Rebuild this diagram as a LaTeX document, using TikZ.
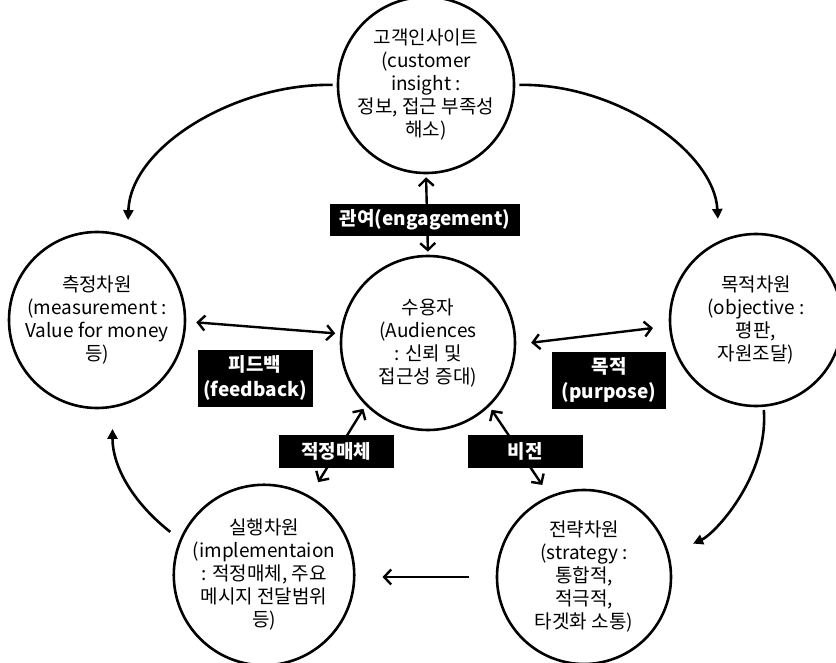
\documentclass[tikz,border=0pt]{standalone}
\usepackage{fontspec}
\setmainfont{Noto Sans CJK KR}
\usetikzlibrary{arrows.meta,calc}

\begin{document}
\begin{tikzpicture}[x=1pt,y=-1pt,
  circ/.style={circle,draw,line width=2.6pt,inner sep=0pt,align=center,
    minimum size=174pt,font=\fontsize{19}{23}\selectfont},
  tag/.style={fill=black,text=white,inner sep=0pt,align=center,
    font=\bfseries\fontsize{19}{25}\selectfont},
  barb/.tip={Straight Barb[length=7pt,width=15pt,line width=2.4pt]},
  link/.style={line width=2.4pt,barb-barb},
  flow/.style={line width=2.6pt,-{Triangle[length=10pt,width=10pt]}},
]
\useasboundingbox (0,0) rectangle (836,663);

% the six dimension circles
\node[circ] (top) at (426,85)
  {고객인사이트\\(customer\\insight :\\정보, 접근 부족성\\해소)};
\node[circ,minimum size=176pt] (left) at (97,320)
  {측정차원\\(measurement :\\Value for money\\등)};
\node[circ,minimum size=172pt] (right) at (756,320)
  {목적차원\\(objective :\\평판,\\자원조달)};
\node[circ] (ctr) at (428,343)
  {수용자\\(Audiences\\: 신뢰 및\\접근성 증대)};
\node[circ] (bl) at (264,575)
  {실행차원\\(implementaion\\: 적정매체, 주요\\메시지 전달범위\\등)};
\node[circ] (br) at (584,577)
  {전략차원\\(strategy :\\통합적,\\적극적,\\타겟화 소통)};

% two-way links with the audience circle
\draw[link,shorten <=3pt,shorten >=3pt] (top.south) -- (ctr.north);
\draw[link,shorten <=10pt,shorten >=5pt] (left.-1) -- (ctr.174);
\draw[link,shorten <=15pt,shorten >=16pt] (ctr.-1) -- (right.-176);
\draw[link,shorten <=4pt,shorten >=16pt] (ctr.-135) -- (bl.60);
\draw[link,shorten <=4pt,shorten >=13pt] (ctr.-46) -- (br.113);

% labels on the links
\node[tag,minimum width=190pt,minimum height=32pt] (engage) at (425,220) {관여(engagement)};
\node[tag,minimum width=115pt,minimum height=57pt] (fb) at (255,378) {피드백\\(feedback)};
\node[tag,minimum width=114pt,minimum height=57pt] (purp) at (609,380) {목적\\(purpose)};
\node[tag,minimum width=115pt,minimum height=33pt] (media) at (336,451) {적정매체};
\node[tag,minimum width=115pt,minimum height=33pt] (vision) at (525,451) {비전};

% outer cycle
\draw[flow,shorten <=4pt,shorten >=16pt] (top.180) .. controls +(-100,-2) and +(3,-90) .. (left.70);
\draw[flow,shorten <=4pt,shorten >=22pt] (top.0) .. controls +(100,-2) and +(-5,-90) .. (right.115);
\draw[flow,shorten <=3pt,shorten >=26pt] (right.-85) .. controls +(5,70) and +(45,-20) .. (br.15);
\draw[line width=2.4pt,-barb,shorten <=27pt,shorten >=27pt]
  (br.west) -- (br.west -| bl.east);
\draw[flow,shorten <=12pt,shorten >=21pt] (bl.157) .. controls +(-45,-35) and +(0,60) .. (left.-80);
\end{tikzpicture}
\end{document}
